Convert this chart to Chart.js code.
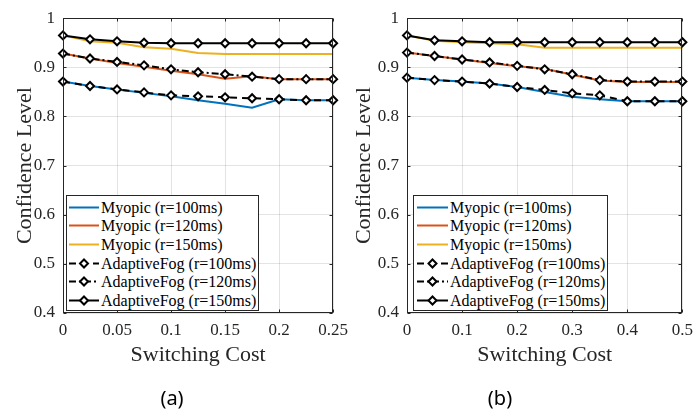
<!DOCTYPE html>
<html><head><meta charset="utf-8">
<script src="https://cdn.jsdelivr.net/npm/chart.js@4.4.1/dist/chart.umd.min.js"></script>
<style>
html,body{margin:0;padding:0;background:#fff;width:695px;height:409px;overflow:hidden;position:relative;}
canvas{position:absolute;top:0;}
#ca{left:0;} #cb{left:340px;}
.legend{position:absolute;background:#fff;border:1px solid #262626;box-sizing:border-box;font-family:"Liberation Serif",serif;font-size:16px;color:#000;}
.row{position:absolute;left:0;height:19px;line-height:19px;white-space:nowrap;}
.row svg{position:absolute;top:0;}
.row span{position:absolute;top:0;}
.cap{position:absolute;font-family:"Noto Sans";font-size:20px;color:#000;transform:translate(-50%,-50%);white-space:nowrap;}
</style></head><body>
<canvas id="ca" width="355" height="409"></canvas>
<canvas id="cb" width="360" height="409"></canvas>
<div class="cap" style="left:172px;top:397px;">(a)</div>
<div class="cap" style="left:500px;top:397px;">(b)</div>
<script>
// ---- data ----
const seriesNames = ["Myopic (r=100ms)","Myopic (r=120ms)","Myopic (r=150ms)","AdaptiveFog (r=100ms)","AdaptiveFog (r=120ms)","AdaptiveFog (r=150ms)"];
const xA = [0,0.025,0.05,0.075,0.1,0.125,0.15,0.175,0.2,0.225,0.25];
const myo100A = [0.871,0.862,0.855,0.848,0.841,0.833,0.826,0.818,0.835,0.833,0.833];
const myo120A = [0.928,0.918,0.909,0.901,0.893,0.886,0.877,0.882,0.876,0.876,0.876];
const myo150A = [0.965,0.953,0.950,0.941,0.938,0.929,0.927,0.927,0.927,0.927,0.927];
const af100A  = [0.871,0.862,0.855,0.849,0.843,0.841,0.839,0.837,0.835,0.833,0.833];
const af120A  = [0.928,0.918,0.911,0.904,0.896,0.890,0.886,0.881,0.876,0.876,0.876];
const af150A  = [0.965,0.957,0.953,0.950,0.949,0.949,0.949,0.949,0.949,0.949,0.949];

const xB = [0,0.05,0.1,0.15,0.2,0.25,0.3,0.35,0.4,0.45,0.5];
const myo100B = [0.879,0.874,0.871,0.867,0.860,0.850,0.840,0.835,0.831,0.831,0.831];
const myo120B = [0.930,0.923,0.916,0.909,0.902,0.897,0.885,0.873,0.870,0.870,0.870];
const myo150B = [0.965,0.954,0.951,0.949,0.947,0.940,0.940,0.940,0.940,0.940,0.940];
const af100B  = [0.879,0.874,0.871,0.867,0.860,0.854,0.847,0.843,0.831,0.831,0.831];
const af120B  = [0.930,0.923,0.916,0.910,0.903,0.896,0.886,0.874,0.871,0.871,0.871];
const af150B  = [0.965,0.955,0.953,0.951,0.951,0.951,0.951,0.951,0.951,0.951,0.951];

const xLabel = "Switching Cost";
const yLabel = "Confidence Level";

// ---- styles ----
const styles = [
  {color:"#0072BD", dash:[], marker:false},
  {color:"#D95319", dash:[], marker:false},
  {color:"#EDB120", dash:[], marker:false},
  {color:"#000000", dash:[7,5], marker:true},
  {color:"#000000", dash:[7,3,2,3], marker:true},
  {color:"#000000", dash:[], marker:true}
];
const AX = "#262626";
const SERIF = "'Liberation Serif', serif";

const fmt = v => String(Number(Number(v).toFixed(3)));

const boxPlugin = {
  id:'boxTicks',
  afterDatasetsDraw(chart){
    const {ctx, chartArea:a, scales:{x,y}} = chart;
    ctx.save();
    ctx.strokeStyle = AX; ctx.lineWidth = 1;
    const L = Math.round(a.left)+0.5, T = Math.round(a.top)+0.5, R = Math.round(a.right)-0.5, B = Math.round(a.bottom)-0.5;
    ctx.beginPath();
    x.ticks.forEach(t=>{ const p = Math.round(x.getPixelForValue(t.value))+0.5;
      ctx.moveTo(p,B); ctx.lineTo(p,B-3); ctx.moveTo(p,T); ctx.lineTo(p,T+3); });
    y.ticks.forEach(t=>{ const p = Math.round(y.getPixelForValue(t.value))+0.5;
      ctx.moveTo(L,p); ctx.lineTo(L+3,p); ctx.moveTo(R,p); ctx.lineTo(R-3,p); });
    ctx.stroke();
    ctx.strokeRect(L,T,R-L,B-T);
    ctx.restore();
  }
};

function makeChart(id, xs, lists, xmax, xstep, yAxisW, yTitlePad, rightPad){
  const datasets = lists.map((vals,i)=>({
    label: seriesNames[i],
    data: xs.map((xv,j)=>({x:xv, y:vals[j]})),
    borderColor: styles[i].color,
    backgroundColor: styles[i].color,
    borderWidth: 2,
    borderDash: styles[i].dash,
    pointStyle: 'rectRot',
    pointRadius: styles[i].marker ? 4 : 0,
    pointBorderWidth: 2,
    pointBorderColor: '#000',
    pointBackgroundColor: '#fff',
    tension: 0,
    clip: false,
    order: 5 - i
  }));
  return new Chart(document.getElementById(id), {
    type:'line',
    data:{datasets},
    plugins:[boxPlugin],
    options:{
      responsive:false, animation:false,
      layout:{padding:{left:0, top:18, right:rightPad, bottom:0}},
      plugins:{legend:{display:false}, tooltip:{enabled:false}},
      scales:{
        x:{type:'linear', min:0, max:xmax,
           afterFit(s){ s.height = 96; },
           ticks:{stepSize:xstep, padding:7, color:AX, font:{family:SERIF, size:17}, maxRotation:0, callback:fmt},
           grid:{color:'rgba(38,38,38,0.13)', drawTicks:false},
           border:{display:false},
           title:{display:true, text:xLabel, color:AX, font:{family:SERIF, size:22}, padding:{top:0,bottom:40.8}}
        },
        y:{type:'linear', min:0.4, max:1,
           afterFit(s){ s.width = yAxisW; },
           ticks:{stepSize:0.1, padding:8, color:AX, font:{family:SERIF, size:17}, callback:fmt},
           grid:{color:'rgba(38,38,38,0.13)', drawTicks:false},
           border:{display:false},
           title:{display:true, text:yLabel, color:AX, font:{family:SERIF, size:22}, padding:{top:yTitlePad,bottom:0}}
        }
      }
    }
  });
}

makeChart('ca', xA, [myo100A,myo120A,myo150A,af100A,af120A,af150A], 0.25, 0.05, 63, 11.8, 20);
makeChart('cb', xB, [myo100B,myo120B,myo150B,af100B,af120B,af150B], 0.5, 0.1, 67, 10.8, 17);

// ---- legends (HTML, real text) ----
function makeLegend(left, top, width, height, sampleX, sampleW, textX){
  const box = document.createElement('div');
  box.className = 'legend';
  Object.assign(box.style, {left:left+'px', top:top+'px', width:width+'px', height:height+'px'});
  seriesNames.forEach((name,i)=>{
    const row = document.createElement('div');
    row.className = 'row';
    row.style.top = (1.5 + i*18.7) + 'px';
    row.style.width = width + 'px';
    const st = styles[i];
    const mid = sampleW/2;
    let svg = `<svg width="${sampleW}" height="19" style="left:${sampleX}px"><line x1="0" y1="9.5" x2="${sampleW}" y2="9.5" stroke="${st.color}" stroke-width="2" ${st.dash.length?`stroke-dasharray="${st.dash.join(',')}"`:''}/>`;
    if (st.marker) svg += `<polygon points="${mid},5.5 ${mid+4},9.5 ${mid},13.5 ${mid-4},9.5" fill="#fff" stroke="#000" stroke-width="2"/>`;
    svg += `</svg>`;
    row.innerHTML = svg + `<span style="left:${textX}px">${name}</span>`;
    box.appendChild(row);
  });
  document.body.appendChild(box);
}
makeLegend(66, 195, 193, 116, 2, 30, 34);
makeLegend(413, 195, 195, 116, 3, 31, 36);
</script>
</body></html>
